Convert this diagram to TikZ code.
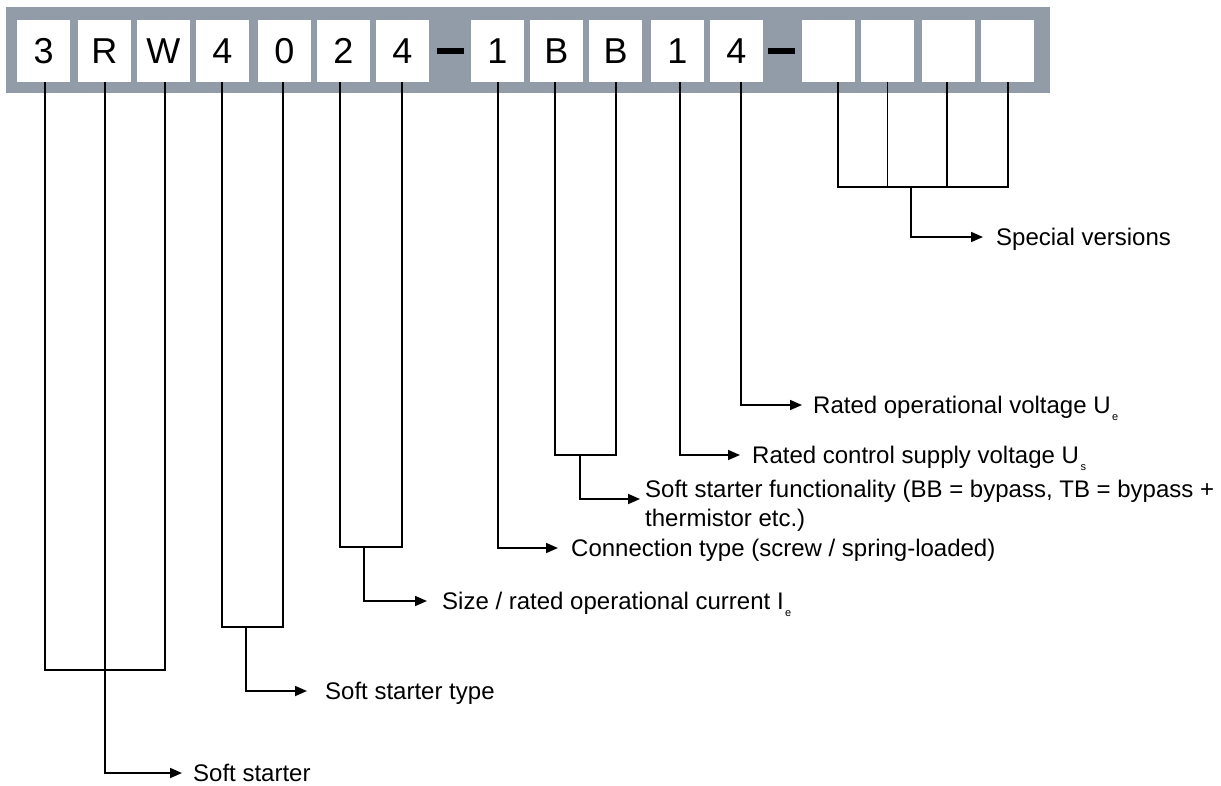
\documentclass[tikz,border=0pt]{standalone}
\usepackage{fontspec}
\setmainfont{Liberation Sans}
\usetikzlibrary{arrows.meta,calc}
\definecolor{bargray}{RGB}{146,156,168}
\newcommand{\subidx}[1]{\kern1.5pt\raisebox{-7pt}{\fontsize{11}{11}\selectfont #1}}
\begin{document}
\begin{tikzpicture}[x=1pt,y=-1pt,
  ch/.style={fill=white, minimum width=53pt, minimum height=62pt, inner sep=0pt, font=\fontsize{36}{40}\selectfont},
  dashbar/.style={fill=black, minimum width=27pt, minimum height=6.5pt, inner sep=0pt},
  lbl/.style={anchor=west, inner sep=0pt, text height=17pt, text depth=0pt, font=\fontsize{24}{29}\selectfont},
  wire/.style={line width=1.7pt},
  arr/.style={wire, -{Triangle[length=12pt,width=10pt]}}]
\useasboundingbox (0,0) rectangle (1221,785);
\fill[bargray] (6,7) rectangle (1050,93);
% character boxes
\node[ch] (c1) at (43.7,51) {3};
\node[ch] (c2) at (104.3,51) {R};
\node[ch] (c3) at (163.3,51) {W};
\node[ch] (c4) at (222.5,51) {4};
\node[ch] (c5) at (284.3,51) {0};
\node[ch] (c6) at (343.5,51) {2};
\node[ch] (c7) at (402.3,51) {4};
\node[dashbar] (d1) at (450,51) {};
\node[ch] (c8) at (497.5,51) {1};
\node[ch] (c9) at (556.3,51) {B};
\node[ch] (c10) at (615.5,51) {B};
\node[ch] (c11) at (677.3,51) {1};
\node[ch] (c12) at (736.3,51) {4};
\node[dashbar] (d2) at (781.5,51) {};
\node[ch] (c13) at (828.5,51) {};
\node[ch] (c14) at (887.5,51) {};
\node[ch] (c15) at (948.5,51) {};
\node[ch] (c16) at (1007.5,51) {};
% line start points
\coordinate (s1) at ($(c1.south)+(1.3,0)$);
\coordinate (s2) at ($(c2.south)+(0.7,0)$);
\coordinate (s3) at ($(c3.south)+(1.7,0)$);
\coordinate (s4) at ($(c4.south)+(-0.5,0)$);
\coordinate (s5) at ($(c5.south)+(-1.3,0)$);
\coordinate (s6) at ($(c6.south)+(-3.5,0)$);
\coordinate (s7) at ($(c7.south)+(0,0)$);
\coordinate (s8) at ($(c8.south)+(0.5,0)$);
\coordinate (s9) at ($(c9.south)+(-1.3,0)$);
\coordinate (s10) at ($(c10.south)+(0.5,0)$);
\coordinate (s11) at ($(c11.south)+(2.7,0)$);
\coordinate (s12) at ($(c12.south)+(4.7,0)$);
\coordinate (s13) at ($(c13.south)+(9.5,0)$);
\coordinate (s14) at ($(c14.south)+(0,0)$);
\coordinate (s15) at ($(c15.south)+(-1.5,0)$);
\coordinate (s16) at ($(c16.south)+(0.5,0)$);
% bracket junctions
\coordinate (b1) at (105,670);
\coordinate (b2) at (246,627);
\coordinate (b3) at (364,547);
\coordinate (b4) at (580,455);
\coordinate (b5) at (911,187);
% labels
\node[lbl] (l1) at (193,773) {Soft starter};
\node[lbl] (l2) at (325,691) {Soft starter type};
\node[lbl] (l3) at (442,601) {Size / rated operational current I\subidx{e}};
\node[lbl] (l4) at (571,548) {Connection type (screw / spring-loaded)};
\node[lbl] (l5) at (645,488.5) {Soft starter functionality (BB = bypass, TB = bypass +};
\node[lbl, anchor=base west] (l5b) at ($(l5.base west)+(0,29)$) {thermistor etc.)};
\node[lbl] (l6) at (752,455) {Rated control supply voltage U\subidx{s}};
\node[lbl] (l7) at (813,405) {Rated operational voltage U\subidx{e}};
\node[lbl] (l8) at (996,237) {Special versions};
% brackets
\draw[wire] (s1) |- (b1) -| (s3);
\draw[wire] (s4) |- (b2) -| (s5);
\draw[wire] (s6) |- (b3) -| (s7);
\draw[wire] (s9) |- (b4) -| (s10);
\draw[wire] (s13) |- (b5) -| (s16);
\draw[wire] (s14) -- (s14 |- b5);
\draw[wire] (s15) -- (s15 |- b5);
% arrows
\draw[arr, shorten >=11pt] (s2) |- (l1.west);
\draw[arr, shorten >=18pt] (b2) |- (l2.west);
\draw[arr, shorten >=15pt] (b3) |- (l3.west);
\draw[arr, shorten >=13pt] (s8) |- (l4.west);
\draw[arr, shorten >=5pt] (b4) |- ($(l5.base west)+(0,2)$);
\draw[arr, shorten >=12pt] (s11) |- (l6.west);
\draw[arr, shorten >=11pt] (s12) |- (l7.west);
\draw[arr, shorten >=13pt] (b5) |- (l8.west);
\end{tikzpicture}
\end{document}
